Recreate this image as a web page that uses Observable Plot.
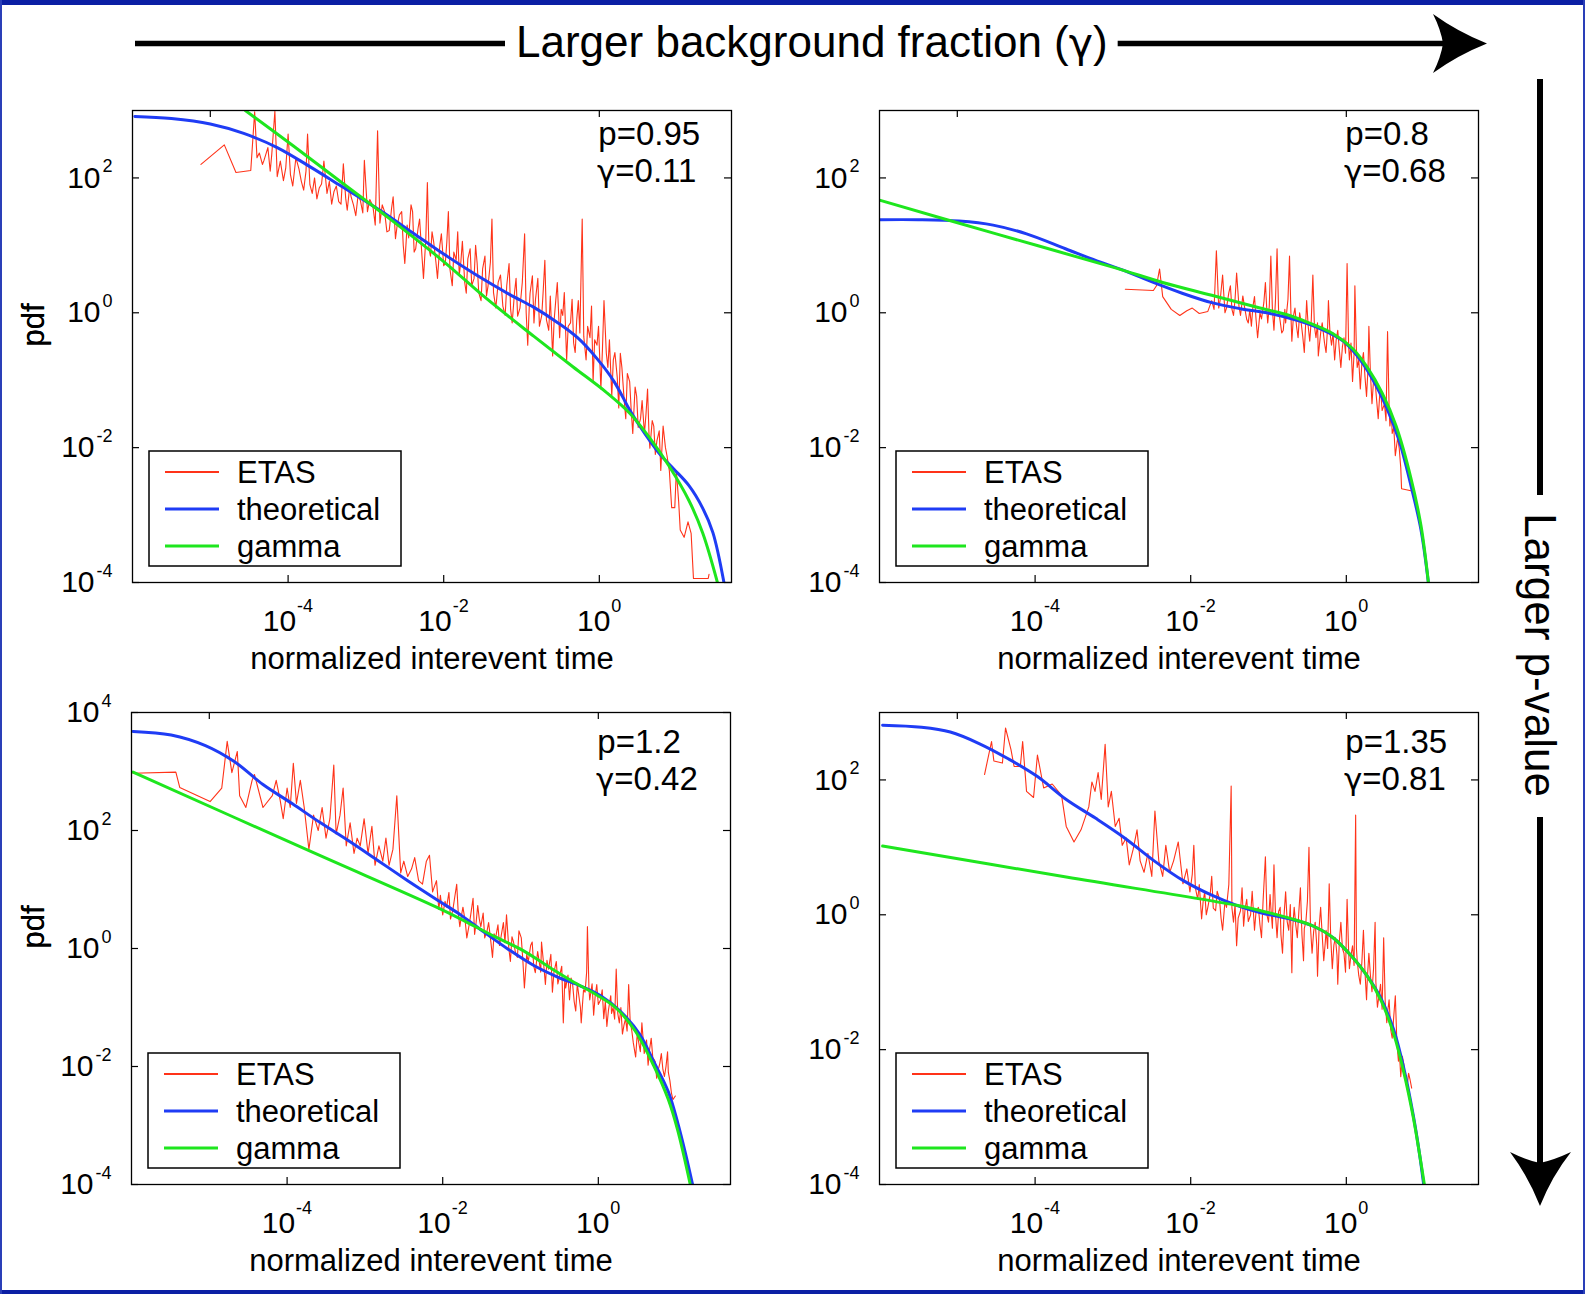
<!DOCTYPE html>
<html><head><meta charset="utf-8">
<script src="https://cdn.jsdelivr.net/npm/d3@7"></script>
<script src="https://cdn.jsdelivr.net/npm/@observablehq/plot@0.6"></script>
<style>
body{margin:0;background:#fff;}
#root{position:relative;width:1585px;height:1294px;overflow:hidden;background:#fff;font-family:"Liberation Sans",Arial,sans-serif;}
</style></head><body><div id="root"></div>
<script>
// ---------------- data (log10 x, log10 y) ----------------
const seriesNames = ["ETAS", "theoretical", "gamma"];
const pValues = ["0.95", "0.8", "1.2", "1.35"];
const gammaValues = ["0.11", "0.68", "0.42", "0.81"];
const xTickExps = [-4, -2, 0];
const xTopTickExps = [-5, 0];
const yTickExpsA = [2, 0, -2, -4];
const yTickExpsB = [4, 2, 0, -2, -4];

const etasP1 = [[-5.12,2.20],[-4.82,2.49],[-4.67,2.08],[-4.48,2.11],[-4.43,2.98],[-4.40,2.30],[-4.37,2.37],[-4.33,2.20],[-4.31,2.26],[-4.26,2.45],[-4.23,2.10],[-4.21,2.35],[-4.17,2.99],[-4.14,2.02],[-4.10,2.25],[-4.06,1.96],[-4.03,2.15],[-4.00,2.65],[-3.97,2.05],[-3.94,1.88],[-3.90,2.30],[-3.86,2.13],[-3.83,1.95],[-3.80,1.82],[-3.77,2.10],[-3.75,2.65],[-3.72,1.90],[-3.69,1.77],[-3.66,2.00],[-3.63,1.69],[-3.60,1.85],[-3.57,1.91],[-3.54,2.25],[-3.50,1.77],[-3.47,1.95],[-3.44,1.61],[-3.41,1.80],[-3.38,1.88],[-3.35,1.65],[-3.32,1.61],[-3.29,2.21],[-3.26,1.70],[-3.24,1.52],[-3.21,1.85],[-3.19,1.72],[-3.16,1.60],[-3.13,1.44],[-3.10,1.75],[-3.07,1.66],[-3.04,1.48],[-3.02,2.26],[-2.98,1.50],[-2.95,1.68],[-2.91,1.58],[-2.88,1.30],[-2.85,2.70],[-2.82,1.33],[-2.79,1.60],[-2.76,1.50],[-2.73,1.20],[-2.70,1.22],[-2.67,1.55],[-2.65,1.72],[-2.62,1.10],[-2.60,1.28],[-2.57,1.45],[-2.54,1.50],[-2.52,1.00],[-2.50,0.73],[-2.47,1.30],[-2.45,1.11],[-2.42,1.60],[-2.40,1.50],[-2.38,0.90],[-2.36,0.95],[-2.33,1.25],[-2.31,1.39],[-2.28,0.85],[-2.26,0.51],[-2.23,1.10],[-2.21,1.93],[-2.19,0.95],[-2.17,0.84],[-2.15,1.20],[-2.13,1.06],[-2.10,0.75],[-2.08,0.51],[-2.05,1.00],[-2.03,1.17],[-2.00,0.70],[-1.98,0.73],[-1.96,1.05],[-1.94,1.50],[-1.92,0.65],[-1.89,0.40],[-1.87,0.90],[-1.84,0.78],[-1.82,1.20],[-1.80,0.56],[-1.78,0.75],[-1.76,1.06],[-1.73,0.45],[-1.71,0.29],[-1.69,0.80],[-1.66,0.95],[-1.64,0.40],[-1.61,0.51],[-1.59,1.00],[-1.57,0.73],[-1.55,0.30],[-1.52,0.18],[-1.50,0.65],[-1.47,0.84],[-1.45,0.25],[-1.43,0.40],[-1.40,0.75],[-1.38,1.39],[-1.36,0.30],[-1.33,0.07],[-1.30,0.45],[-1.27,0.56],[-1.24,0.10],[-1.21,-0.04],[-1.19,0.40],[-1.16,0.73],[-1.14,0.05],[-1.12,-0.15],[-1.09,0.30],[-1.07,0.51],[-1.05,-0.05],[-1.02,0.07],[-0.99,0.45],[-0.96,1.17],[-0.94,0.00],[-0.92,-0.48],[-0.90,0.10],[-0.89,0.29],[-0.86,0.55],[-0.84,-0.15],[-0.82,0.20],[-0.79,0.51],[-0.77,-0.20],[-0.74,-0.04],[-0.72,0.35],[-0.70,0.78],[-0.68,-0.10],[-0.65,-0.26],[-0.63,0.25],[-0.60,-0.64],[-0.58,-0.10],[-0.56,0.18],[-0.54,0.45],[-0.51,-0.37],[-0.49,0.05],[-0.47,-0.04],[-0.45,0.30],[-0.42,-0.70],[-0.40,-0.20],[-0.37,-0.15],[-0.35,0.20],[-0.33,-0.45],[-0.31,-0.59],[-0.29,-0.10],[-0.27,0.18],[-0.25,-0.30],[-0.22,1.39],[-0.20,-0.35],[-0.17,-0.70],[-0.15,-0.20],[-0.12,-0.37],[-0.10,0.10],[-0.08,-1.02],[-0.06,-0.40],[-0.03,-0.48],[-0.01,-0.20],[0.02,-1.13],[0.04,-0.55],[0.06,0.18],[0.09,-0.60],[0.11,-0.81],[0.13,-0.40],[0.16,-1.24],[0.18,-0.70],[0.20,-0.59],[0.23,-0.95],[0.25,-1.41],[0.27,-0.60],[0.29,-0.81],[0.32,-1.30],[0.34,-1.57],[0.36,-0.90],[0.39,-1.02],[0.41,-1.45],[0.43,-1.79],[0.46,-1.10],[0.48,-1.24],[0.50,-1.70],[0.53,-1.57],[0.55,-1.30],[0.58,-1.79],[0.60,-1.50],[0.62,-1.13],[0.64,-1.85],[0.65,-2.01],[0.68,-1.60],[0.70,-1.68],[0.72,-2.10],[0.74,-1.90],[0.77,-1.75],[0.79,-2.34],[0.82,-1.68],[0.85,-2.00],[0.87,-2.12],[0.90,-2.34],[0.93,-2.89],[0.97,-2.89],[0.99,-2.34],[1.02,-2.80],[1.04,-3.22],[1.09,-3.33],[1.14,-3.10],[1.18,-3.27],[1.21,-3.94],[1.40,-3.94],[1.41,-3.88]];
const theoP1 = [[-5.97,2.91],[-5.5,2.88],[-5.0,2.80],[-4.57,2.66],[-4.14,2.45],[-3.71,2.16],[-3.32,1.88],[-2.82,1.52],[-2.39,1.18],[-2.0,0.87],[-1.58,0.56],[-1.15,0.27],[-0.84,0.08],[-0.53,-0.15],[-0.28,-0.37],[-0.03,-0.68],[0.19,-1.02],[0.40,-1.46],[0.59,-1.80],[0.78,-2.10],[0.96,-2.32],[1.15,-2.56],[1.33,-2.90],[1.46,-3.26],[1.61,-4.05]];
const gammaP1 = [[-4.55,3.0],[-3.94,2.48],[-3.32,1.94],[-2.70,1.40],[-2.0,0.76],[-1.46,0.22],[-0.84,-0.35],[-0.34,-0.80],[0.09,-1.18],[0.40,-1.50],[0.65,-1.86],[0.90,-2.28],[1.15,-2.78],[1.33,-3.27],[1.53,-4.05]];

const etasP2 = [[-2.84,0.35],[-2.48,0.33],[-2.44,0.40],[-2.40,0.65],[-2.36,0.24],[-2.25,0.05],[-2.14,-0.04],[-2.05,0.03],[-1.98,0.07],[-1.89,-0.01],[-1.78,0.02],[-1.73,0.18],[-1.70,0.05],[-1.67,0.92],[-1.64,0.07],[-1.62,0.20],[-1.59,0.56],[-1.56,0.00],[-1.54,0.07],[-1.51,0.30],[-1.49,0.40],[-1.47,0.05],[-1.45,-0.04],[-1.43,0.20],[-1.41,0.59],[-1.38,0.10],[-1.36,-0.04],[-1.33,0.25],[-1.31,0.10],[-1.28,-0.10],[-1.26,-0.15],[-1.24,0.05],[-1.22,-0.20],[-1.20,0.10],[-1.18,0.24],[-1.16,-0.10],[-1.14,-0.37],[-1.11,0.00],[-1.09,-0.09],[-1.06,0.15],[-1.04,0.45],[-1.02,0.00],[-1.01,-0.15],[-0.99,0.10],[-0.97,0.84],[-0.95,0.05],[-0.93,-0.26],[-0.91,0.20],[-0.89,0.95],[-0.87,0.00],[-0.86,-0.04],[-0.83,-0.30],[-0.81,-0.26],[-0.79,0.05],[-0.78,-0.15],[-0.75,0.20],[-0.73,0.84],[-0.71,-0.10],[-0.70,-0.42],[-0.68,-0.05],[-0.66,0.07],[-0.64,-0.20],[-0.62,-0.37],[-0.60,0.00],[-0.58,-0.15],[-0.56,-0.35],[-0.54,-0.59],[-0.52,-0.10],[-0.51,0.18],[-0.49,-0.20],[-0.47,-0.42],[-0.45,-0.10],[-0.43,0.56],[-0.41,-0.20],[-0.39,-0.37],[-0.37,-0.15],[-0.36,-0.64],[-0.33,-0.30],[-0.31,-0.15],[-0.28,-0.45],[-0.26,-0.59],[-0.24,-0.20],[-0.23,0.18],[-0.21,-0.30],[-0.19,-0.48],[-0.17,-0.30],[-0.15,-0.70],[-0.13,-0.40],[-0.11,-0.26],[-0.09,-0.55],[-0.07,-0.81],[-0.05,-0.50],[-0.03,-0.37],[-0.01,-0.60],[0.01,0.73],[0.03,-0.50],[0.04,-0.70],[0.06,-0.45],[0.08,-1.02],[0.10,-0.60],[0.11,0.40],[0.13,-0.55],[0.14,-0.81],[0.16,-0.70],[0.18,-1.13],[0.20,-0.75],[0.22,-0.59],[0.24,-0.95],[0.26,-1.24],[0.28,-0.80],[0.29,-0.20],[0.31,-0.90],[0.33,-1.35],[0.35,-1.00],[0.37,-1.02],[0.39,-1.30],[0.41,-1.57],[0.43,-1.20],[0.44,-1.13],[0.46,-1.45],[0.49,-1.35],[0.51,-1.60],[0.53,-0.28],[0.55,-1.40],[0.56,-1.68],[0.58,-1.50],[0.59,-1.79],[0.61,-1.70],[0.63,-2.12],[0.66,-1.85],[0.68,-2.01],[0.70,-2.30],[0.71,-2.61],[0.83,-2.64]];
const theoP2 = [[-6,1.38],[-5.5,1.38],[-4.98,1.36],[-4.54,1.30],[-4.11,1.17],[-3.61,0.95],[-3.23,0.78],[-2.86,0.63],[-2.48,0.45],[-2.11,0.29],[-1.73,0.15],[-1.36,0.06],[-0.98,-0.01],[-0.61,-0.12],[-0.29,-0.26],[-0.04,-0.42],[0.14,-0.64],[0.33,-0.97],[0.52,-1.41],[0.68,-1.90],[0.83,-2.56],[0.96,-3.22],[1.06,-4.05]];
const gammaP2 = [[-6,1.67],[-4.5,1.17],[-2.98,0.67],[-2.36,0.45],[-1.73,0.26],[-1.11,0.07],[-0.73,-0.04],[-0.48,-0.15],[-0.17,-0.31],[0.08,-0.53],[0.27,-0.81],[0.46,-1.19],[0.64,-1.68],[0.83,-2.45],[0.96,-3.16],[1.06,-4.05]];

const etasP3 = [[-5.98,2.97],[-5.43,2.99],[-5.38,2.73],[-4.99,2.49],[-4.84,2.72],[-4.77,3.51],[-4.71,2.98],[-4.64,3.34],[-4.61,2.59],[-4.53,2.39],[-4.45,2.85],[-4.42,2.95],[-4.31,2.39],[-4.19,2.59],[-4.14,2.85],[-4.09,2.52],[-4.05,2.20],[-4.00,2.72],[-3.96,2.39],[-3.92,3.14],[-3.88,2.46],[-3.83,2.85],[-3.78,2.39],[-3.72,1.68],[-3.66,2.26],[-3.60,2.00],[-3.55,2.39],[-3.50,1.87],[-3.45,2.20],[-3.40,3.11],[-3.37,1.94],[-3.32,2.26],[-3.28,2.72],[-3.24,1.74],[-3.19,2.13],[-3.14,1.61],[-3.10,1.87],[-3.06,1.74],[-3.01,2.20],[-2.96,1.61],[-2.91,2.07],[-2.87,1.41],[-2.82,1.74],[-2.77,1.48],[-2.73,1.87],[-2.69,1.41],[-2.64,1.68],[-2.59,2.59],[-2.54,1.28],[-2.50,1.48],[-2.45,1.22],[-2.40,1.35],[-2.36,1.54],[-2.31,1.15],[-2.26,1.09],[-2.21,1.48],[-2.17,1.58],[-2.13,0.96],[-2.08,1.15],[-2.05,0.66],[-2.03,0.90],[-2.00,0.57],[-1.97,0.80],[-1.95,0.70],[-1.92,0.95],[-1.90,0.50],[-1.87,0.65],[-1.85,0.83],[-1.82,1.09],[-1.80,0.60],[-1.78,0.37],[-1.76,0.55],[-1.74,0.70],[-1.71,0.45],[-1.69,0.18],[-1.66,0.40],[-1.64,0.57],[-1.61,0.85],[-1.59,0.24],[-1.57,0.45],[-1.55,0.73],[-1.53,0.50],[-1.51,0.37],[-1.48,0.60],[-1.46,0.18],[-1.43,0.30],[-1.41,0.44],[-1.38,0.10],[-1.36,-0.15],[-1.34,0.25],[-1.32,0.18],[-1.29,0.40],[-1.27,0.05],[-1.25,0.20],[-1.22,0.44],[-1.20,0.10],[-1.18,0.57],[-1.15,0.00],[-1.13,-0.22],[-1.11,0.20],[-1.09,0.11],[-1.06,-0.10],[-1.04,-0.15],[-1.02,0.30],[-0.99,0.18],[-0.97,-0.20],[-0.95,-0.67],[-0.92,-0.10],[-0.90,-0.22],[-0.87,0.05],[-0.85,0.11],[-0.83,-0.30],[-0.81,-0.41],[-0.78,-0.05],[-0.76,-0.22],[-0.74,-0.40],[-0.73,0.11],[-0.70,-0.30],[-0.68,-0.61],[-0.66,-0.20],[-0.64,-0.35],[-0.61,-0.10],[-0.59,-0.74],[-0.57,-0.40],[-0.54,-0.22],[-0.52,-0.60],[-0.50,-0.48],[-0.47,-0.30],[-0.45,-1.26],[-0.43,-0.50],[-0.42,-0.67],[-0.39,-0.45],[-0.37,-0.87],[-0.35,-0.50],[-0.33,-0.61],[-0.31,-0.90],[-0.29,-1.06],[-0.27,-0.60],[-0.25,-0.80],[-0.23,-1.00],[-0.22,-1.26],[-0.19,-0.70],[-0.17,-0.74],[-0.15,-0.40],[-0.14,0.37],[-0.12,-0.70],[-0.11,-0.87],[-0.08,-0.60],[-0.06,-1.13],[-0.04,-0.80],[-0.02,-0.61],[0.00,-0.95],[0.03,-0.87],[0.05,-0.70],[0.07,-1.19],[0.09,-0.90],[0.11,-1.32],[0.13,-1.05],[0.16,-0.80],[0.17,-1.10],[0.19,-1.00],[0.21,-1.20],[0.23,-0.35],[0.25,-1.10],[0.27,-1.26],[0.29,-1.00],[0.31,-1.45],[0.33,-1.30],[0.35,-1.19],[0.37,-1.40],[0.39,-0.61],[0.41,-1.25],[0.43,-1.39],[0.45,-1.60],[0.48,-1.84],[0.50,-1.45],[0.51,-1.52],[0.54,-1.75],[0.56,-1.26],[0.58,-1.60],[0.59,-1.78],[0.62,-1.55],[0.64,-1.98],[0.66,-1.70],[0.68,-1.52],[0.70,-1.85],[0.73,-1.91],[0.75,-2.20],[0.76,-2.11],[0.79,-1.95],[0.81,-1.78],[0.83,-2.05],[0.85,-2.17],[0.87,-2.00],[0.89,-1.75],[0.90,-2.10],[0.92,-2.24],[0.94,-2.45],[0.96,-2.56],[0.99,-2.50]];
const theoP3 = [[-5.98,3.68],[-5.49,3.62],[-5.05,3.44],[-4.68,3.17],[-4.31,2.78],[-3.94,2.46],[-3.57,2.13],[-3.19,1.81],[-2.82,1.48],[-2.45,1.15],[-2.08,0.83],[-1.77,0.57],[-1.46,0.27],[-1.15,-0.02],[-0.84,-0.28],[-0.53,-0.48],[-0.22,-0.64],[0.03,-0.80],[0.28,-1.06],[0.53,-1.45],[0.71,-1.91],[0.90,-2.43],[1.02,-2.95],[1.12,-3.47],[1.22,-4.05]];
const gammaP3 = [[-5.98,2.99],[-3.69,1.64],[-2.08,0.70],[-1.71,0.46],[-1.33,0.20],[-0.96,-0.04],[-0.65,-0.30],[-0.34,-0.55],[-0.03,-0.78],[0.22,-1.00],[0.47,-1.39],[0.71,-1.98],[0.90,-2.56],[1.02,-3.08],[1.19,-4.05]];

const etasP4 = [[-4.65,2.08],[-4.56,2.57],[-4.53,2.28],[-4.42,2.25],[-4.38,2.77],[-4.31,2.45],[-4.27,2.20],[-4.19,2.20],[-4.16,2.57],[-4.11,1.83],[-4.02,1.74],[-3.97,2.37],[-3.89,1.88],[-3.78,1.94],[-3.66,1.77],[-3.60,1.31],[-3.50,1.08],[-3.41,1.26],[-3.31,1.60],[-3.27,1.97],[-3.23,1.83],[-3.19,2.11],[-3.15,1.71],[-3.10,2.53],[-3.06,1.60],[-3.02,1.83],[-2.97,1.31],[-2.92,1.43],[-2.88,1.03],[-2.83,1.14],[-2.79,0.74],[-2.74,0.97],[-2.69,1.26],[-2.65,0.80],[-2.60,0.63],[-2.55,0.91],[-2.50,0.57],[-2.46,1.54],[-2.41,0.80],[-2.36,0.57],[-2.32,1.03],[-2.27,0.63],[-2.22,0.80],[-2.16,1.08],[-2.10,0.46],[-2.05,0.68],[-2.01,0.34],[-1.98,0.60],[-1.96,1.03],[-1.94,0.40],[-1.91,0.23],[-1.89,0.45],[-1.86,-0.06],[-1.84,0.20],[-1.82,0.34],[-1.80,0.00],[-1.78,0.11],[-1.75,0.30],[-1.73,0.57],[-1.71,0.10],[-1.68,0.06],[-1.66,0.35],[-1.63,0.23],[-1.61,-0.05],[-1.59,-0.23],[-1.56,0.20],[-1.54,0.11],[-1.51,0.45],[-1.48,1.91],[-1.47,0.10],[-1.45,-0.11],[-1.43,0.15],[-1.41,-0.46],[-1.39,-0.05],[-1.36,0.06],[-1.34,0.40],[-1.32,-0.17],[-1.30,0.10],[-1.28,0.23],[-1.26,-0.10],[-1.23,0.00],[-1.21,0.35],[-1.18,-0.23],[-1.16,0.05],[-1.13,0.11],[-1.11,-0.15],[-1.09,-0.34],[-1.07,0.20],[-1.04,0.86],[-1.02,0.00],[-1.00,-0.11],[-0.98,0.30],[-0.97,0.11],[-0.95,-0.20],[-0.93,0.74],[-0.91,0.00],[-0.89,-0.34],[-0.87,0.05],[-0.85,0.11],[-0.84,-0.30],[-0.82,-0.57],[-0.80,0.00],[-0.78,0.34],[-0.76,-0.10],[-0.74,-0.23],[-0.72,0.15],[-0.70,-0.86],[-0.69,-0.20],[-0.67,0.11],[-0.65,-0.15],[-0.63,-0.34],[-0.61,0.05],[-0.59,0.40],[-0.57,-0.30],[-0.55,-0.68],[-0.54,-0.20],[-0.52,-0.11],[-0.50,0.20],[-0.48,1.00],[-0.46,-0.20],[-0.44,-0.57],[-0.42,-0.25],[-0.40,-0.11],[-0.38,-0.45],[-0.37,-0.91],[-0.35,-0.20],[-0.33,0.11],[-0.31,-0.30],[-0.29,-0.68],[-0.27,-0.40],[-0.26,-0.23],[-0.24,-0.50],[-0.22,0.46],[-0.20,-0.35],[-0.18,-0.80],[-0.16,-0.45],[-0.14,-0.34],[-0.12,-0.60],[-0.11,-1.03],[-0.09,-0.40],[-0.07,-0.11],[-0.05,-0.50],[-0.03,-0.57],[-0.01,-0.85],[0.01,0.23],[0.03,-0.55],[0.04,-0.80],[0.06,-0.60],[0.08,-0.46],[0.10,-0.75],[0.12,1.48],[0.13,-0.50],[0.14,-0.68],[0.16,-0.90],[0.18,-1.03],[0.20,-0.70],[0.22,-0.23],[0.24,-0.85],[0.26,-1.26],[0.27,-0.95],[0.29,-0.57],[0.31,-0.90],[0.33,-1.14],[0.35,-0.80],[0.37,-0.11],[0.38,-1.00],[0.40,-1.37],[0.42,-1.20],[0.44,-1.03],[0.46,-1.40],[0.48,-0.34],[0.50,-1.30],[0.52,-1.60],[0.53,-1.45],[0.55,-1.26],[0.57,-1.70],[0.59,-1.83],[0.61,-1.50],[0.63,-1.20],[0.65,-1.90],[0.67,-2.17],[0.68,-2.00],[0.70,-2.40],[0.72,-2.10],[0.74,-2.22],[0.76,-2.45],[0.78,-2.57],[0.80,-2.35],[0.82,-2.45],[0.84,-2.57]];
const theoP4 = [[-5.96,2.81],[-5.46,2.78],[-5.09,2.71],[-4.72,2.54],[-4.34,2.31],[-3.97,2.05],[-3.60,1.71],[-3.22,1.43],[-2.85,1.14],[-2.47,0.80],[-2.10,0.51],[-1.73,0.29],[-1.41,0.14],[-1.10,0.03],[-0.73,-0.06],[-0.42,-0.17],[-0.17,-0.34],[0.08,-0.63],[0.27,-0.91],[0.45,-1.25],[0.61,-1.71],[0.74,-2.28],[0.86,-2.97],[0.94,-3.54],[1.00,-4.05]];
const gammaP4 = [[-5.96,1.02],[-3.60,0.56],[-1.41,0.14],[-1.10,0.06],[-0.73,-0.05],[-0.42,-0.17],[-0.17,-0.34],[0.08,-0.63],[0.27,-0.91],[0.45,-1.28],[0.61,-1.77],[0.74,-2.34],[0.86,-3.00],[0.94,-3.54],[1.01,-4.05]];

// ---------------- styling / layout ----------------
const RED = "#ff3319", BLUE = "#1f3cf5", GREEN = "#1ee61e";
const FONT = "Liberation Sans, Arial, Helvetica, sans-serif";
const GFONT = "DejaVu Sans, Liberation Sans, sans-serif";
const FW = 599, FH = 472, ML = 130, MR = 40, MT = 30, MB = 110;
const toPts = arr => arr.map(([lx, ly]) => ({x: 10 ** lx, y: 10 ** ly}));

const panels = [
  {left: 132, top: 110, yDomain: [1e-4, 1e3], yTicks: yTickExpsA, etas: etasP1, theo: theoP1, gam: gammaP1, p: pValues[0], g: gammaValues[0], annDy: 34},
  {left: 879, top: 110, yDomain: [1e-4, 1e3], yTicks: yTickExpsA, etas: etasP2, theo: theoP2, gam: gammaP2, p: pValues[1], g: gammaValues[1], annDy: 34},
  {left: 131, top: 712, yDomain: [1e-4, 1e4], yTicks: yTickExpsB, etas: etasP3, theo: theoP3, gam: gammaP3, p: pValues[2], g: gammaValues[2], annDy: 40},
  {left: 879, top: 712, yDomain: [1e-4, 1e3], yTicks: yTickExpsA, etas: etasP4, theo: theoP4, gam: gammaP4, p: pValues[3], g: gammaValues[3], annDy: 40}
];

const root = document.getElementById("root");

for (const cfg of panels) {
  const marks = [
    Plot.line(toPts(cfg.etas), {x: "x", y: "y", stroke: RED, strokeWidth: 1.1, clip: true}),
    Plot.line(toPts(cfg.theo), {x: "x", y: "y", stroke: BLUE, strokeWidth: 3, curve: "catmull-rom", clip: true}),
    Plot.line(toPts(cfg.gam), {x: "x", y: "y", stroke: GREEN, strokeWidth: 3, curve: "catmull-rom", clip: true}),
    Plot.frame({stroke: "#000", strokeWidth: 1.3}),
    Plot.tickX(xTickExps.map(e => 10 ** e), {x: d => d, insetTop: FH - 7, stroke: "#000", strokeWidth: 1.2}),
    Plot.tickX(xTopTickExps.map(e => 10 ** e), {x: d => d, insetBottom: FH - 7, stroke: "#000", strokeWidth: 1.2}),
    Plot.tickY(cfg.yTicks.map(e => 10 ** e), {y: d => d, insetRight: FW - 7, stroke: "#000", strokeWidth: 1.2}),
    Plot.tickY(cfg.yTicks.map(e => 10 ** e), {y: d => d, insetLeft: FW - 7, stroke: "#000", strokeWidth: 1.2})
  ];
  // x tick labels 10^e
  for (const e of xTickExps) {
    const supW = e < 0 ? 16 : 10;
    const tenEnd = (33 + 1 + supW) / 2 - supW - 1;
    marks.push(Plot.text([10 ** e], {x: d => d, frameAnchor: "bottom", text: () => "10", textAnchor: "end", lineAnchor: "bottom", dx: tenEnd, dy: 48, fontSize: 30, fontFamily: FONT}));
    marks.push(Plot.text([10 ** e], {x: d => d, frameAnchor: "bottom", text: () => String(e), textAnchor: "start", lineAnchor: "bottom", dx: tenEnd + 1, dy: 29, fontSize: 18, fontFamily: FONT}));
  }
  // y tick labels 10^e
  for (const e of cfg.yTicks) {
    const supW = e < 0 ? 16 : 10;
    marks.push(Plot.text([10 ** e], {y: d => d, frameAnchor: "left", text: () => "10", textAnchor: "end", lineAnchor: "middle", dx: -(20 + supW + 2), fontSize: 30, fontFamily: FONT}));
    marks.push(Plot.text([10 ** e], {y: d => d, frameAnchor: "left", text: () => String(e), textAnchor: "end", lineAnchor: "bottom", dx: -20, dy: -6, fontSize: 18, fontFamily: FONT}));
  }
  // annotation p / gamma
  marks.push(Plot.text([cfg.p], {x: () => 1, frameAnchor: "top", text: d => "p=" + d, textAnchor: "start", lineAnchor: "bottom", dx: -1, dy: cfg.annDy, fontSize: 33, fontFamily: FONT}));
  marks.push(Plot.text(["γ"], {x: () => 1, frameAnchor: "top", text: d => d, textAnchor: "end", lineAnchor: "bottom", dx: 16, dy: cfg.annDy + 37, fontSize: 31, fontFamily: GFONT}));
  marks.push(Plot.text([cfg.g], {x: () => 1, frameAnchor: "top", text: d => "=" + d, textAnchor: "start", lineAnchor: "bottom", dx: 16, dy: cfg.annDy + 37, fontSize: 33, fontFamily: FONT}));
  // axis labels
  marks.push(Plot.text(["normalized interevent time"], {frameAnchor: "bottom", text: d => d, lineAnchor: "bottom", dy: 86, fontSize: 31, fontFamily: FONT}));
  marks.push(Plot.text(["pdf"], {frameAnchor: "left", text: d => d, rotate: -90, lineAnchor: "bottom", dx: -(cfg.left - 43), fontSize: 31, fontFamily: FONT}));

  const chart = Plot.plot({
    width: ML + FW + MR, height: MT + FH + MB,
    marginLeft: ML, marginRight: MR, marginTop: MT, marginBottom: MB,
    x: {type: "log", domain: [1e-6, 50], axis: null},
    y: {type: "log", domain: cfg.yDomain, axis: null},
    style: {background: "transparent", overflow: "visible", fontFamily: FONT, maxWidth: "none"},
    marks
  });
  chart.style.position = "absolute";
  chart.style.left = (cfg.left - ML) + "px";
  chart.style.top = (cfg.top - MT) + "px";
  root.appendChild(chart);
}

// ---------------- overlay: border, direction arrows, legends ----------------
const legendColors = [RED, BLUE, GREEN];
const legendWidths = [2, 3, 3];
let s = `<svg xmlns="http://www.w3.org/2000/svg" width="1585" height="1294" style="position:absolute;left:0;top:0;overflow:visible" font-family="${FONT}">`;
for (const cfg of panels) {
  const bx = cfg.left + 17, by = cfg.top + FH - 131;
  s += `<rect x="${bx}" y="${by}" width="252" height="115" fill="#fff" stroke="#000" stroke-width="1.5"/>`;
  seriesNames.forEach((name, i) => {
    const ey = by + 21 + i * 37;
    s += `<line x1="${bx + 16}" x2="${bx + 70}" y1="${ey}" y2="${ey}" stroke="${legendColors[i]}" stroke-width="${legendWidths[i]}"/>`;
    s += `<text x="${bx + 88}" y="${ey + 11}" font-size="31" fill="#000">${name}</text>`;
  });
}
s += `<rect x="0" y="0" width="1585" height="5" fill="#0b1fa4"/>`;
s += `<rect x="0" y="1290" width="1585" height="4" fill="#0b1fa4"/>`;
s += `<rect x="0" y="0" width="2" height="1294" fill="#2a3fb8"/>`;
s += `<rect x="1583" y="0" width="2" height="1294" fill="#2a3fb8"/>`;
s += `<line x1="135" y1="43.5" x2="505" y2="43.5" stroke="#000" stroke-width="5.5"/>`;
s += `<text id="ttl" x="516" y="57" font-size="44" fill="#000">Larger background fraction (<tspan font-family="${GFONT}" font-size="41">γ</tspan>)</text>`;
s += `<line id="tline" x1="1117" y1="43.5" x2="1445" y2="43.5" stroke="#000" stroke-width="5.5"/>`;
s += `<path d="M1487,43.5 Q1458,32 1433,14 Q1441,30 1443,43.5 Q1441,57 1433,73 Q1458,55 1487,43.5 Z" fill="#000"/>`;
s += `<line x1="1540" y1="79" x2="1540" y2="495" stroke="#000" stroke-width="6"/>`;
s += `<text x="1540" y="655" font-size="44" fill="#000" text-anchor="middle" dominant-baseline="central" transform="rotate(90 1540 655)">Larger p-value</text>`;
s += `<line x1="1540" y1="817" x2="1540" y2="1165" stroke="#000" stroke-width="6"/>`;
s += `<path d="M1540,1206 Q1528,1176 1510,1152 Q1526,1160 1540,1163 Q1554,1160 1571,1152 Q1552,1176 1540,1206 Z" fill="#000"/>`;
s += `</svg>`;
root.insertAdjacentHTML("beforeend", s);
try {
  const len = document.getElementById("ttl").getComputedTextLength();
  document.getElementById("tline").setAttribute("x1", 516 + len + 10);
} catch (e) {}
</script>
</body></html>
